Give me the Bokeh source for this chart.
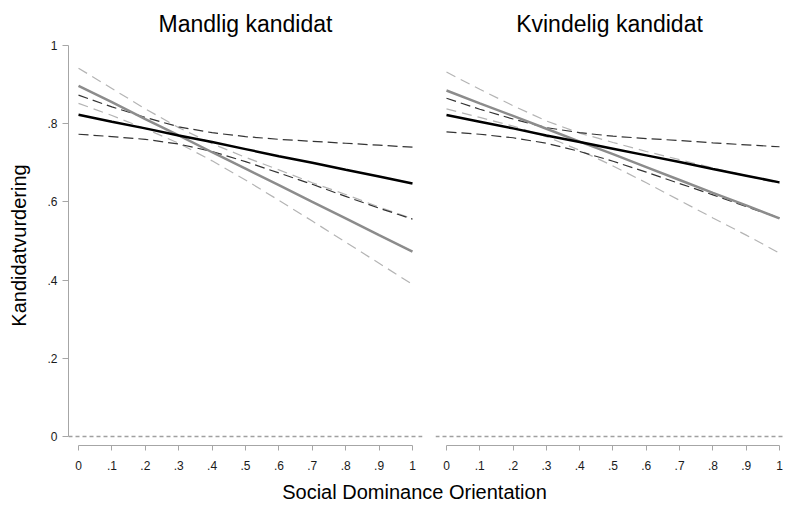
from bokeh.plotting import figure
from bokeh.models import Range1d, FixedTicker, Span
from bokeh.layouts import column, row
from bokeh.embed import file_html
from bokeh.resources import INLINE

# ---------------- data ----------------
sdo = [0.0, 0.1, 0.2, 0.3, 0.4, 0.5, 0.6, 0.7, 0.8, 0.9, 1.0]

# Mandlig kandidat (left panel)
m_black_fit = [.823, .805, .788, .770, .753, .735, .717, .700, .682, .665, .647]
m_black_hi = [.873, .843, .816, .792, .777, .767, .760, .755, .750, .745, .740]
m_black_lo = [.773, .767, .760, .748, .729, .703, .674, .645, .614, .584, .556]
m_gray_fit = [.897, .855, .812, .770, .727, .685, .643, .600, .558, .515, .473]
m_gray_hi = [.942, .890, .838, .790, .749, .714, .682, .649, .619, .587, .557]
m_gray_lo = [.852, .821, .787, .750, .705, .656, .604, .551, .497, .443, .389]

# Kvindelig kandidat (right panel)
k_black_fit = [.822, .805, .788, .770, .753, .736, .719, .702, .684, .667, .650]
k_black_hi = [.865, .837, .812, .790, .777, .768, .762, .757, .751, .746, .741]
k_black_lo = [.779, .773, .764, .750, .729, .704, .676, .647, .618, .588, .559]
k_gray_fit = [.885, .852, .820, .787, .754, .722, .689, .656, .623, .591, .558]
k_gray_hi = [.932, .888, .846, .807, .776, .752, .729, .708, .687, .667, .647]
k_gray_lo = [.838, .816, .794, .767, .732, .692, .649, .604, .559, .515, .469]

x_ticks = [0, .1, .2, .3, .4, .5, .6, .7, .8, .9, 1]
x_tick_labels = ["0", ".1", ".2", ".3", ".4", ".5", ".6", ".7", ".8", ".9", "1"]
y_ticks = [0, .2, .4, .6, .8, 1]
y_tick_labels = ["0", ".2", ".4", ".6", ".8", "1"]

titles = ["Mandlig kandidat", "Kvindelig kandidat"]
y_title = "Kandidatvurdering"
x_title = "Social Dominance Orientation"

FONT = "Liberation Sans"
AXIS_GRAY = "#a6a6a6"
TICK_TXT = "#1a1a1a"
TICK_SIZE = "12px"


def make_panel(title, fit_a, hi_a, lo_a, fit_b, hi_b, lo_b, xr, fw,
               mbl, mbr, show_y):
    p = figure(frame_width=fw, frame_height=400,
               x_range=xr, y_range=Range1d(-0.023, 1.0),
               output_backend="svg", toolbar_location=None,
               min_border_left=mbl, min_border_right=mbr,
               min_border_top=41, min_border_bottom=33,
               title=title)
    p.title.text_font = FONT
    p.title.text_font_size = "23px"
    p.title.text_font_style = "normal"
    p.title.text_color = "black"
    p.title.align = "center"
    p.title.standoff = 17
    p.outline_line_color = None
    p.grid.visible = False
    p.background_fill_color = "white"
    p.border_fill_color = "white"

    # x axis
    xa = p.xaxis[0]
    xa.ticker = FixedTicker(ticks=x_ticks)
    xa.major_label_overrides = {t: l for t, l in zip(x_ticks, x_tick_labels)}
    xa.bounds = (0, 1)
    xa.axis_line_color = AXIS_GRAY
    xa.major_tick_line_color = AXIS_GRAY
    xa.major_tick_out = 5
    xa.major_tick_in = 0
    xa.minor_tick_line_color = None
    xa.major_label_text_font = FONT
    xa.major_label_text_font_size = TICK_SIZE
    xa.major_label_text_color = TICK_TXT
    xa.major_label_standoff = 10

    # y axis
    ya = p.yaxis[0]
    if show_y:
        ya.ticker = FixedTicker(ticks=y_ticks)
        ya.major_label_overrides = {t: l for t, l in zip(y_ticks, y_tick_labels)}
        ya.bounds = (0, 1)
        ya.axis_line_color = AXIS_GRAY
        ya.major_tick_line_color = AXIS_GRAY
        ya.major_tick_out = 6
        ya.major_tick_in = 0
        ya.minor_tick_line_color = None
        ya.major_label_text_font = FONT
        ya.major_label_text_font_size = TICK_SIZE
        ya.major_label_text_color = TICK_TXT
        ya.major_label_standoff = 5
        ya.major_label_orientation = "horizontal"
        ya.axis_label = y_title
        ya.axis_label_text_font = FONT
        ya.axis_label_text_font_size = "20px"
        ya.axis_label_text_font_style = "normal"
        ya.axis_label_text_color = "black"
        ya.axis_label_standoff = 14
    else:
        ya.visible = False

    # zero reference line
    p.add_layout(Span(location=0, dimension="width", line_color="#a0a0a0",
                      line_width=1.3, line_dash="4 3"))

    # confidence bands (dashed)
    p.line(sdo, hi_b, line_color="#b4b4b4", line_width=1.2, line_dash="10 6")
    p.line(sdo, lo_b, line_color="#b4b4b4", line_width=1.2, line_dash="10 6")
    p.line(sdo, hi_a, line_color="#333333", line_width=1.2, line_dash="10 5")
    p.line(sdo, lo_a, line_color="#333333", line_width=1.2, line_dash="10 5")
    # fitted lines
    p.line(sdo, fit_b, line_color="#8c8c8c", line_width=2.5)
    p.line(sdo, fit_a, line_color="#000000", line_width=2.5)
    return p


p1 = make_panel(titles[0], m_black_fit, m_black_hi, m_black_lo,
                m_gray_fit, m_gray_hi, m_gray_lo,
                Range1d(-0.030, 1.030), 354, 68, 6, True)
p2 = make_panel(titles[1], k_black_fit, k_black_hi, k_black_lo,
                k_gray_fit, k_gray_hi, k_gray_lo,
                Range1d(-0.033, 1.012), 348, 7, 0, False)

# shared x-axis title strip (title text only, tiny empty frame)
p3 = figure(frame_width=738, frame_height=2, output_backend="svg",
            toolbar_location=None, x_axis_type=None, y_axis_type=None,
            min_border_left=45, min_border_right=0, min_border_top=0,
            min_border_bottom=0, title=x_title)
p3.outline_line_color = None
p3.grid.visible = False
p3.title.text_font = FONT
p3.title.text_font_size = "20px"
p3.title.text_font_style = "normal"
p3.title.text_color = "black"
p3.title.align = "center"
p3.title.standoff = 0

layout = column(row(p1, p2), p3)
open("out.html", "w").write(file_html(layout, INLINE))
